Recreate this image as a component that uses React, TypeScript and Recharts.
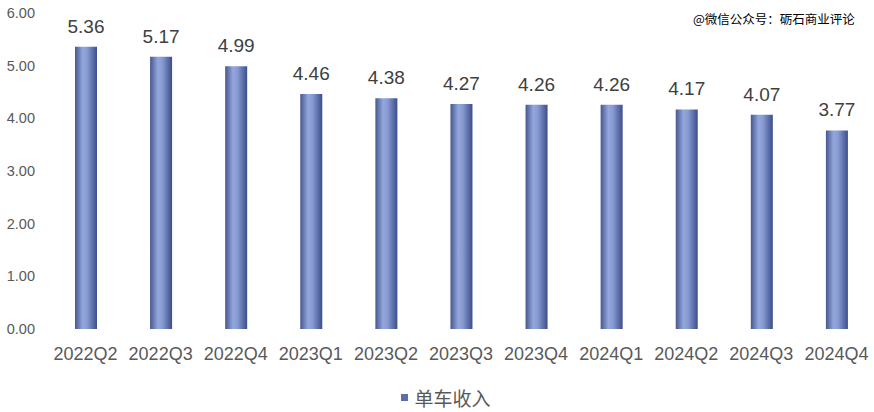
import React from 'react';
import { BarChart, Bar, XAxis, YAxis, Legend, LabelList } from 'recharts';

const quarters = ['2022Q2', '2022Q3', '2022Q4', '2023Q1', '2023Q2', '2023Q3', '2023Q4', '2024Q1', '2024Q2', '2024Q3', '2024Q4'];
const revenuePerCar = [5.36, 5.17, 4.99, 4.46, 4.38, 4.27, 4.26, 4.26, 4.17, 4.07, 3.77];
const yTicks = [0, 1, 2, 3, 4, 5, 6];

const seriesName = '单车收入';
const watermark = '@微信公众号：砺石商业评论';

const data = quarters.map((q, i) => ({ quarter: q, value: revenuePerCar[i] }));

const FONT = '"Liberation Sans", Arial, "Noto Sans CJK SC", sans-serif';

const LegendContent = () => (
    <div style={{ display: 'flex', justifyContent: 'center', alignItems: 'center', fontFamily: FONT }}>
        <span style={{ width: 7, height: 7, background: '#5B6DB0', marginRight: 6, display: 'inline-block' }} />
        <span style={{ fontSize: 19, color: '#595959', fontFamily: '"Noto Sans CJK SC", sans-serif' }}>{seriesName}</span>
    </div>
);

export default function App() {
    return (
        <div style={{ position: 'absolute', left: 0, top: 0, width: 874, height: 412, background: '#fff', fontFamily: FONT }}>
            <BarChart width={874} height={412} data={data} margin={{ top: 13, right: 0, left: 0, bottom: 53 }}>
                <defs>
                    <linearGradient id="barGrad" x1="0" y1="0" x2="1" y2="0">
                        <stop offset="0%" stopColor="#46578F" />
                        <stop offset="35%" stopColor="#93A7DC" />
                        <stop offset="55%" stopColor="#889CD4" />
                        <stop offset="100%" stopColor="#3D4D8A" />
                    </linearGradient>
                </defs>
                <XAxis
                    dataKey="quarter"
                    axisLine={false}
                    tickLine={false}
                    tickMargin={12}
                    height={30}
                    interval={0}
                    tick={{ fill: '#595959', fontSize: 18, fontFamily: FONT }}
                />
                <YAxis
                    width={48}
                    domain={[0, 6]}
                    ticks={yTicks}
                    axisLine={false}
                    tickLine={false}
                    tickMargin={7}
                    tickFormatter={(v: number) => v.toFixed(2)}
                    tick={{ fill: '#595959', fontSize: 14.5, fontFamily: FONT }}
                />
                <Legend verticalAlign="middle" content={<LegendContent />} wrapperStyle={{ top: 384, left: 9, width: 874 }} />
                <Bar dataKey="value" name={seriesName} barSize={22} fill="url(#barGrad)" isAnimationActive={false}>
                    <LabelList dataKey="value" position="top" offset={14} formatter={(v: number) => v.toFixed(2)} style={{ fill: '#404040', fontSize: 19, fontFamily: FONT }} />
                </Bar>
            </BarChart>
            <div style={{ position: 'absolute', left: 693, top: 9, fontSize: 12.5, color: '#000', fontFamily: '"Noto Sans CJK SC", sans-serif', whiteSpace: 'nowrap' }}>
                {watermark}
            </div>
        </div>
    );
}
